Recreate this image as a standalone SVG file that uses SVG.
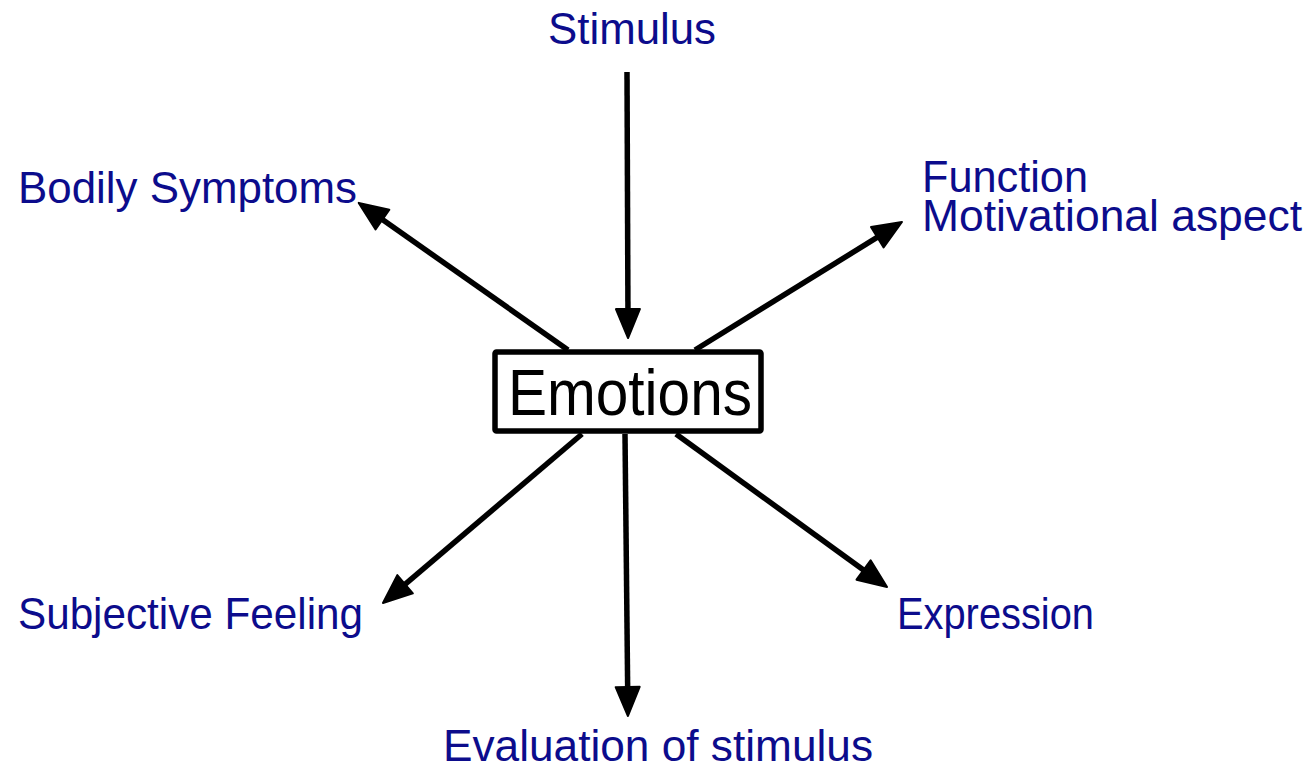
<svg xmlns="http://www.w3.org/2000/svg" width="1312" height="768" viewBox="0 0 1312 768">
<style>
.lbl{font-family:"Liberation Sans",Arial,sans-serif;font-size:44px;fill:#0c0c8c}
.conn{stroke:#000;stroke-width:5.5;fill:none}
</style>
<defs>
<marker id="ah" markerUnits="userSpaceOnUse" orient="auto" overflow="visible" markerWidth="30" markerHeight="24" refX="0" refY="0">
<path d="M-14,-12 L15,0 L-14,12 Z" fill="#000" stroke="#000" stroke-width="2" stroke-linejoin="round"/>
</marker>
</defs>
<rect width="1312" height="768" fill="#fff"/>
<g id="connectors">
<line class="conn" x1="627" y1="72" x2="628" y2="323" marker-end="url(#ah)"/>
<line class="conn" x1="568" y1="350" x2="371" y2="211.5" marker-end="url(#ah)"/>
<line class="conn" x1="695" y1="350" x2="889.2" y2="229.9" marker-end="url(#ah)"/>
<line class="conn" x1="582" y1="434" x2="394.4" y2="593.3" marker-end="url(#ah)"/>
<line class="conn" x1="625" y1="434" x2="627.8" y2="701" marker-end="url(#ah)"/>
<line class="conn" x1="676" y1="434" x2="874.9" y2="578.2" marker-end="url(#ah)"/>
</g>
<g id="emotions">
<rect x="495" y="352" width="266" height="79" rx="1.5" fill="#fff" stroke="#000" stroke-width="5.5"/>
<text x="630" y="415" text-anchor="middle" font-family="Liberation Sans, Arial, sans-serif" font-size="64" textLength="244" lengthAdjust="spacingAndGlyphs" fill="#000">Emotions</text>
</g>
<g id="stimulus"><text class="lbl" x="548" y="44" textLength="168" lengthAdjust="spacingAndGlyphs">Stimulus</text></g>
<g id="bodily"><text class="lbl" x="18" y="203" textLength="339" lengthAdjust="spacingAndGlyphs">Bodily Symptoms</text></g>
<g id="function"><text class="lbl" x="922" y="192" textLength="166" lengthAdjust="spacingAndGlyphs">Function</text><text class="lbl" x="922" y="231" textLength="380" lengthAdjust="spacingAndGlyphs">Motivational aspect</text></g>
<g id="subjective"><text class="lbl" x="18" y="629" textLength="345" lengthAdjust="spacingAndGlyphs">Subjective Feeling</text></g>
<g id="expression"><text class="lbl" x="897" y="629" textLength="197" lengthAdjust="spacingAndGlyphs">Expression</text></g>
<g id="evaluation"><text class="lbl" x="443" y="761" textLength="430" lengthAdjust="spacingAndGlyphs">Evaluation of stimulus</text></g>
</svg>
